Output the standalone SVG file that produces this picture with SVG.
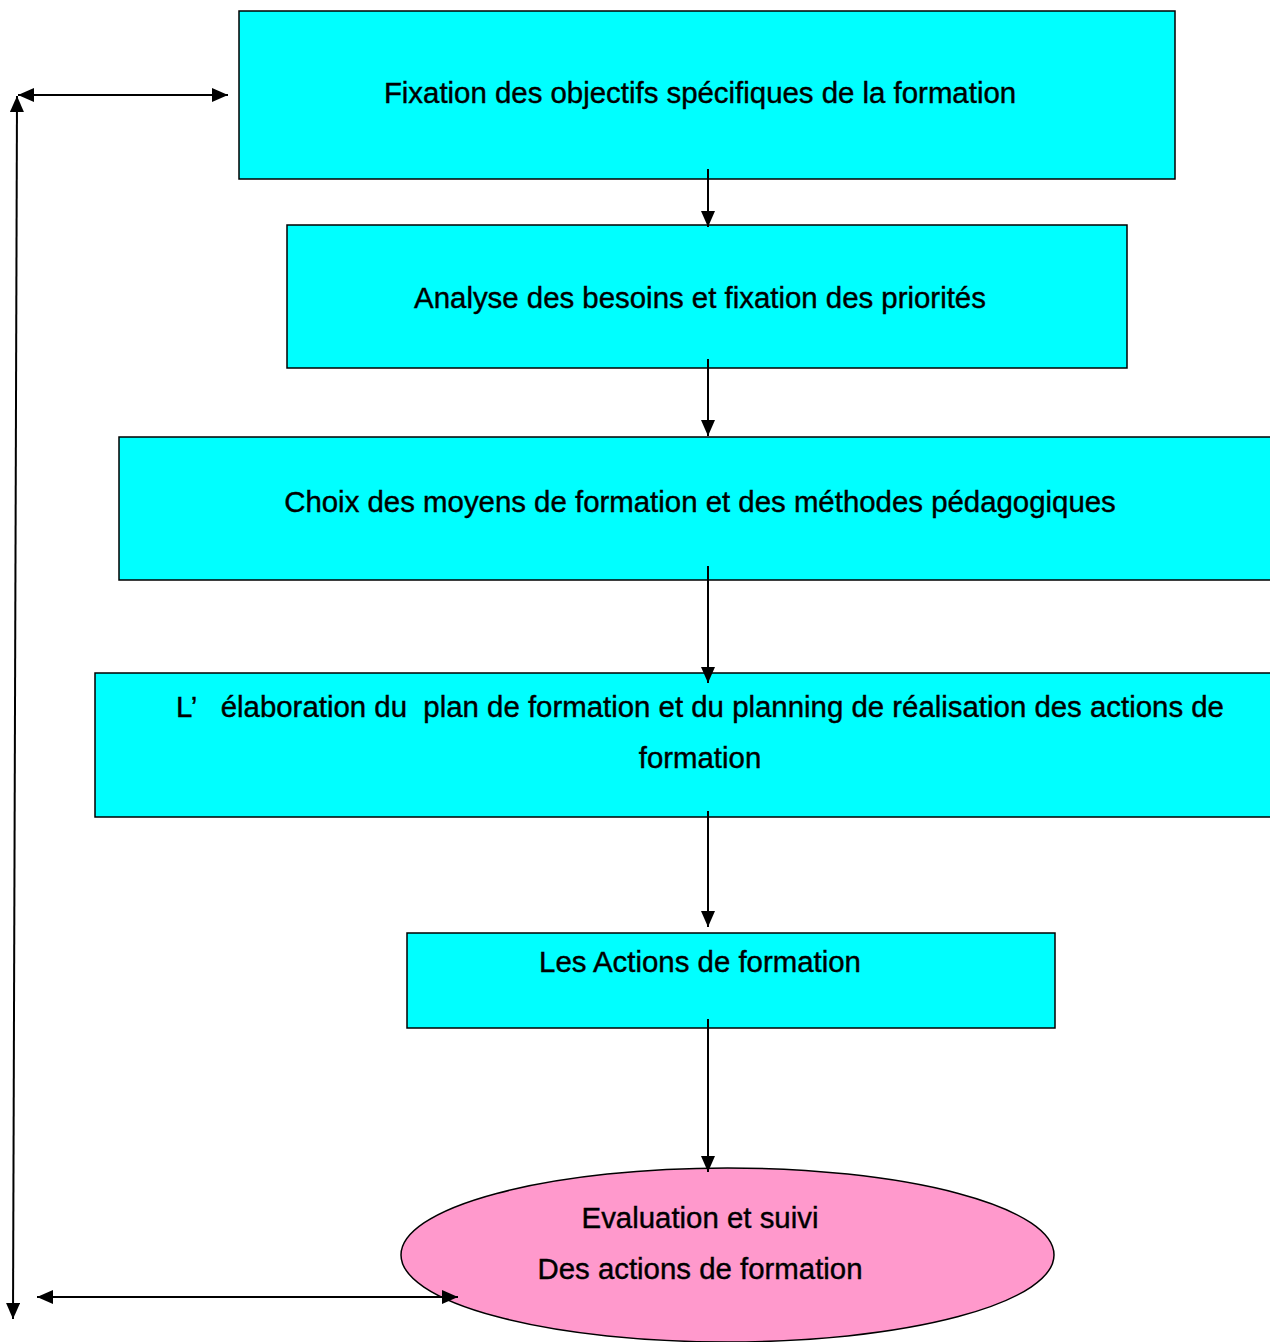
<svg xmlns="http://www.w3.org/2000/svg" width="1270" height="1342" viewBox="0 0 1270 1342">
<style>
.box{fill:#00FFFF;stroke:#000;stroke-width:1.5}
.ell{fill:#FF99CC;stroke:#000;stroke-width:1.5}
.t{font-family:"Liberation Sans",Arial,sans-serif;font-size:29.4px;fill:#000;stroke:#000;stroke-width:0.4;text-anchor:middle;white-space:pre}
.c{stroke:#000;stroke-width:2;fill:none}
</style>
<defs>
<marker id="ah" viewBox="0 0 16 14" refX="16" refY="7" markerWidth="16" markerHeight="14" markerUnits="userSpaceOnUse" orient="auto-start-reverse">
<path d="M0,0 L16,7 L0,14 z" fill="#000"/>
</marker>
</defs>
<rect width="1270" height="1342" fill="#fff"/>
<g id="n1"><rect class="box" x="239" y="11" width="936" height="168"/><text class="t" x="700" y="103">Fixation des objectifs spécifiques de la formation</text></g>
<g id="n2"><rect class="box" x="287" y="225" width="840" height="143"/><text class="t" x="700" y="308">Analyse des besoins et fixation des priorités</text></g>
<g id="n3"><rect class="box" x="119" y="437" width="1160" height="143"/><text class="t" x="700" y="512">Choix des moyens de formation et des méthodes pédagogiques</text></g>
<g id="n4"><rect class="box" x="95" y="673" width="1184" height="144"/><text class="t" x="700" y="717" xml:space="preserve">L’   élaboration du  plan de formation et du planning de réalisation des actions de</text><text class="t" x="700" y="768">formation</text></g>
<g id="n5"><rect class="box" x="407" y="933" width="648" height="95"/><text class="t" x="700" y="972">Les Actions de formation</text></g>
<g id="n6"><ellipse class="ell" cx="727.5" cy="1255" rx="326.5" ry="87"/><text class="t" x="700" y="1228">Evaluation et suivi</text><text class="t" x="700" y="1279">Des actions de formation</text></g>
<g id="connectors">
<line class="c" x1="708" y1="169" x2="708" y2="227" marker-end="url(#ah)"/>
<line class="c" x1="708" y1="359" x2="708" y2="436" marker-end="url(#ah)"/>
<line class="c" x1="708" y1="566" x2="708" y2="683" marker-end="url(#ah)"/>
<line class="c" x1="708" y1="811" x2="708" y2="927" marker-end="url(#ah)"/>
<line class="c" x1="708" y1="1019" x2="708" y2="1172" marker-end="url(#ah)"/>
<line class="c" x1="17" y1="96" x2="13" y2="1319" marker-start="url(#ah)" marker-end="url(#ah)"/>
<line class="c" x1="18" y1="95" x2="228" y2="95" marker-start="url(#ah)" marker-end="url(#ah)"/>
<line class="c" x1="37" y1="1297" x2="458" y2="1297" marker-start="url(#ah)" marker-end="url(#ah)"/>
</g>
</svg>
